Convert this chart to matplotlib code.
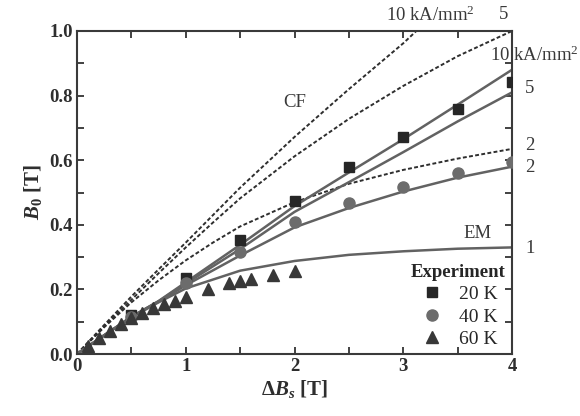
import numpy as np
import matplotlib
matplotlib.use('Agg')
import matplotlib.pyplot as plt
from matplotlib.lines import Line2D

# Schrift: Serif wie im Original
plt.rcParams['font.family'] = ['Liberation Serif', 'DejaVu Serif']
plt.rcParams['mathtext.fontset'] = 'custom'
plt.rcParams['mathtext.rm'] = 'Liberation Serif:bold'
plt.rcParams['mathtext.it'] = 'Liberation Serif:italic:bold'
plt.rcParams['mathtext.bf'] = 'Liberation Serif:bold'

# Messpunkte (Experiment)
x_20K = [0.5, 1.0, 1.5, 2.0, 2.5, 3.0, 3.5, 4.0]
y_20K = [0.122, 0.236, 0.354, 0.475, 0.580, 0.672, 0.760, 0.842]
x_40K = [0.5, 1.0, 1.5, 2.0, 2.5, 3.0, 3.5, 4.0]
y_40K = [0.115, 0.220, 0.316, 0.410, 0.467, 0.517, 0.560, 0.594]
x_60K = [0.1, 0.2, 0.3, 0.4, 0.5, 0.6, 0.7, 0.8, 0.9, 1.0, 1.2, 1.4, 1.5, 1.6, 1.8, 2.0]
y_60K = [0.025, 0.050, 0.072, 0.093, 0.113, 0.127, 0.142, 0.155, 0.165, 0.177,
         0.200, 0.220, 0.225, 0.232, 0.244, 0.258]

# CF-Kurven (gestrichelt)
x_cf10 = [0, 0.25, 0.5, 0.75, 1.0, 1.25, 1.5, 2.0, 2.5, 3.0, 3.12]
y_cf10 = [0, 0.090, 0.178, 0.262, 0.345, 0.430, 0.515, 0.672, 0.820, 0.962, 1.0]
x_cf5 = [0, 0.25, 0.5, 0.75, 1.0, 1.25, 1.5, 2.0, 2.5, 3.0, 3.5, 4.0]
y_cf5 = [0, 0.086, 0.168, 0.250, 0.330, 0.407, 0.482, 0.612, 0.728, 0.830, 0.922, 1.0]
x_cf2 = [0, 0.25, 0.5, 0.75, 1.0, 1.25, 1.5, 2.0, 2.5, 3.0, 3.5, 4.0]
y_cf2 = [0, 0.083, 0.160, 0.228, 0.290, 0.345, 0.395, 0.470, 0.527, 0.570, 0.605, 0.635]

# EM-Kurven (durchgezogen)
x_em = [0, 0.25, 0.5, 0.75, 1.0, 1.5, 2.0, 2.5, 3.0, 3.5, 4.0]
y_em10 = [0, 0.058, 0.115, 0.164, 0.222, 0.338, 0.458, 0.562, 0.665, 0.772, 0.880]
y_em5 = [0, 0.058, 0.115, 0.163, 0.218, 0.325, 0.440, 0.532, 0.625, 0.720, 0.810]
y_em2 = [0, 0.058, 0.115, 0.162, 0.213, 0.305, 0.392, 0.452, 0.503, 0.546, 0.580]
y_em1 = [0, 0.058, 0.113, 0.160, 0.203, 0.258, 0.288, 0.307, 0.318, 0.326, 0.330]

fig = plt.figure(figsize=(5.8, 4.16), dpi=100)
ax = fig.add_axes([0.1328, 0.149, 0.75, 0.7765])

dash_col = '#2e2e2e'
solid_col = '#626262'
for xs, ys in [(x_cf10, y_cf10), (x_cf5, y_cf5), (x_cf2, y_cf2)]:
    ax.plot(xs, ys, color=dash_col, lw=1.4, dashes=(2, 1.2), zorder=2)
for ys in [y_em10, y_em5, y_em2, y_em1]:
    ax.plot(x_em, ys, color=solid_col, lw=1.8, zorder=2)

ax.plot(x_20K, y_20K, 's', color='#262626', ms=7.5, zorder=3)
ax.plot(x_40K, y_40K, 'o', color='#6c6c6c', ms=8, zorder=3)
ax.plot(x_60K, y_60K, '^', color='#383838', ms=9, zorder=3)

ax.set_xlim(0, 4)
ax.set_ylim(0, 1)
ax.set_xticks([0, 1, 2, 3, 4])
ax.set_xticks([0.5, 1.5, 2.5, 3.5], minor=True)
ax.set_yticks([0.0, 0.2, 0.4, 0.6, 0.8, 1.0])
ax.set_yticks([0.1, 0.3, 0.5, 0.7, 0.9], minor=True)
ax.set_yticklabels(['0.0', '0.2', '0.4', '0.6', '0.8', '1.0'])
ax.tick_params(which='both', direction='in', top=True, right=True, color='#333333', width=1.3)
ax.tick_params(which='major', length=5, labelsize=13.5, pad=3)
ax.tick_params(which='minor', length=5)
for lab in ax.get_xticklabels() + ax.get_yticklabels():
    lab.set_fontweight('bold')
    lab.set_color('#2e2e2e')
for sp in ax.spines.values():
    sp.set_color('#3a3a3a')
    sp.set_linewidth(1.5)

ax.set_xlabel(r'$\Delta B_{\mathit{s}}$ [T]', fontsize=15, fontweight='bold', color='#2e2e2e', labelpad=2)
ax.set_ylabel(r'$B_{\mathit{0}}$ [T]', fontsize=15, fontweight='bold', color='#2e2e2e', labelpad=4)

# Beschriftungen der Kurven
txt = dict(color='#3a3a3a', fontsize=13.5, clip_on=False)
ax.text(2.0, 0.778, 'CF', ha='center', va='center', **txt)
ax.text(3.68, 0.374, 'EM', ha='center', va='center', **txt)
ax.text(3.25, 1.05, r'10 kA/mm$^{\mathregular{2}}$', ha='center', va='center', **txt)
ax.text(3.92, 1.05, '5', ha='center', va='center', **txt)
ax.text(3.8, 0.925, r'10 kA/mm$^{\mathregular{2}}$', ha='left', va='center', **txt)
ax.text(4.12, 0.823, '5', ha='left', va='center', **txt)
ax.text(4.12, 0.644, '2', ha='left', va='center', **txt)
ax.text(4.12, 0.576, '2', ha='left', va='center', **txt)
ax.text(4.12, 0.328, '1', ha='left', va='center', **txt)

handles = [Line2D([], [], ls='none', marker='s', color='#262626', ms=7.5),
           Line2D([], [], ls='none', marker='o', color='#6c6c6c', ms=8),
           Line2D([], [], ls='none', marker='^', color='#383838', ms=9)]
leg = ax.legend(handles, ['20 K', '40 K', '60 K'], title='Experiment', loc='lower right',
                bbox_to_anchor=(1.022, -0.03), frameon=False, fontsize=14,
                title_fontsize=13.5, handlelength=1.2, handletextpad=0.8,
                labelspacing=0.25, borderpad=0.3)
leg.get_title().set_fontweight('bold')
leg.get_title().set_color('#262626')
for t in leg.get_texts():
    t.set_color('#262626')

fig.savefig('out.png', dpi=100)
